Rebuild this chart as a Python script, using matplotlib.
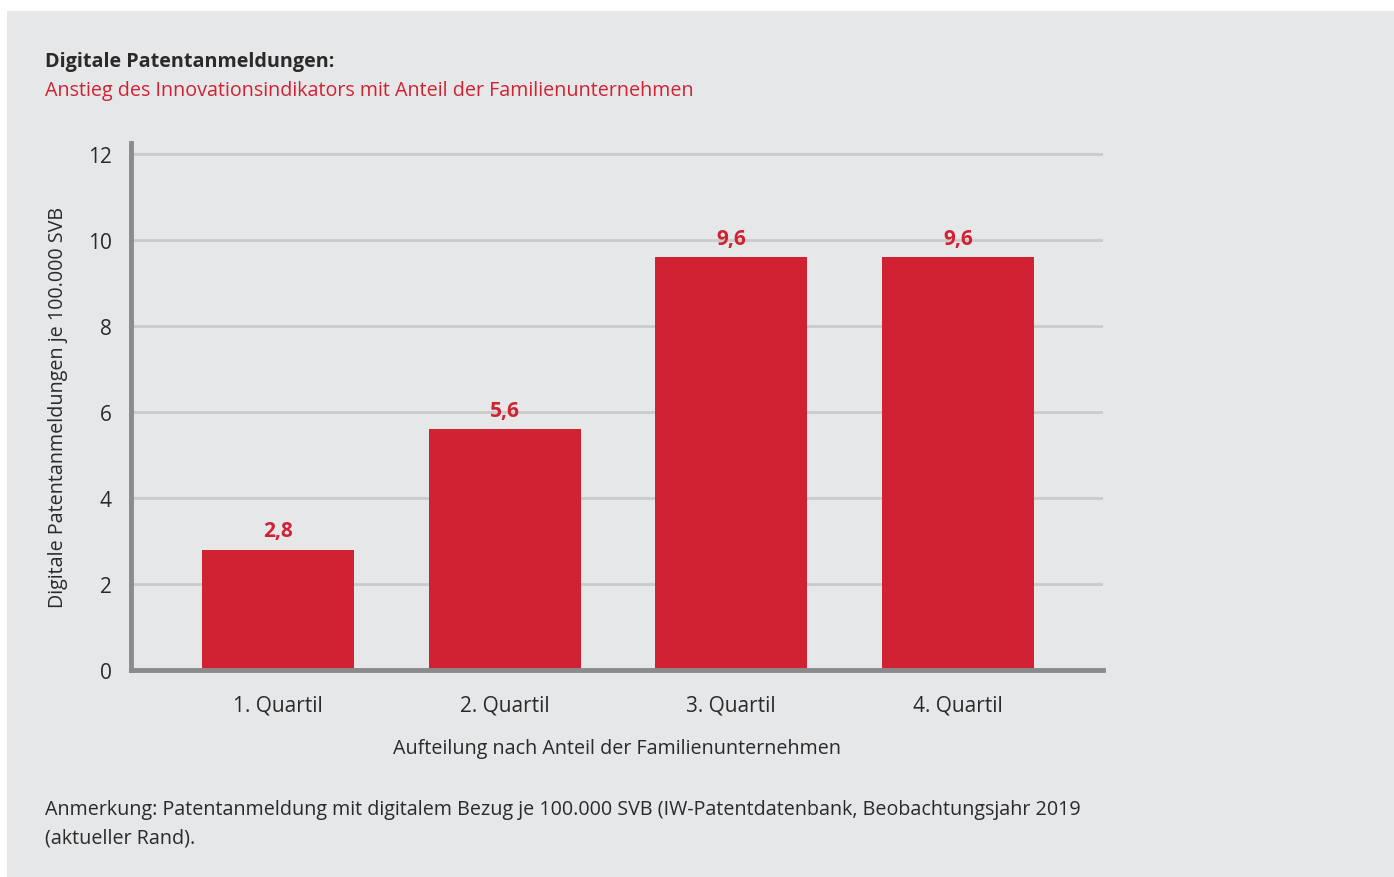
import matplotlib
matplotlib.use("Agg")
import matplotlib.pyplot as plt
import matplotlib.patches as patches

plt.rcParams['font.family'] = ['Open Sans', 'DejaVu Sans']

# data
categories = ["1. Quartil", "2. Quartil", "3. Quartil", "4. Quartil"]
values = [2.8, 5.6, 9.6, 9.6]
valueLabels = ["2,8", "5,6", "9,6", "9,6"]
yTicks = [0, 2, 4, 6, 8, 10, 12]

bgColor = "#e6e7e9"
barColor = "#d12234"
axisColor = "#8a8b8d"
gridColor = "#c9cacc"
textColor = "#2a2a2a"

fs = 14.2

fig = plt.figure(figsize=(13.94, 8.78), dpi=100)
fig.patch.set_facecolor("white")
# grey panel behind everything
fig.patches.append(patches.Rectangle((7/1394, 0), 1, 1 - 12/878, transform=fig.transFigure,
                                     facecolor=bgColor, edgecolor="none", zorder=-10))

ax = fig.add_axes([131/1394, 1 - 671/878, (1103 - 131)/1394, (671 - 144)/878])
ax.set_facecolor("none")

x = range(len(categories))
ax.bar(x, values, width=0.67, color=barColor, zorder=3)
for i, v in enumerate(values):
    ax.annotate(valueLabels[i], (i, v), xytext=(0, 6), textcoords="offset points",
                ha="center", va="bottom", color=barColor, fontsize=15, fontweight="bold")

ax.set_xlim(-0.648, 3.64)
ax.set_ylim(0, 12.25)
ax.set_yticks(yTicks)
ax.set_yticklabels([str(t) for t in yTicks])
ax.set_xticks(list(x))
ax.set_xticklabels(categories)
ax.tick_params(axis="both", length=0, labelsize=15, labelcolor=textColor)
ax.tick_params(axis="y", pad=14)
ax.tick_params(axis="x", pad=18)

for t in yTicks[1:]:
    ax.axhline(t, color=gridColor, linewidth=2, zorder=1)

for s in ["top", "right"]:
    ax.spines[s].set_visible(False)
ax.spines["left"].set_color(axisColor)
ax.spines["left"].set_linewidth(3.5)
ax.spines["bottom"].set_color(axisColor)
ax.spines["bottom"].set_linewidth(3.5)
ax.spines["left"].set_zorder(4)
ax.spines["bottom"].set_zorder(4)

ax.set_ylabel("Digitale Patentanmeldungen je 100.000 SVB", fontsize=fs, color=textColor, labelpad=14)
ax.set_xlabel("Aufteilung nach Anteil der Familienunternehmen", fontsize=fs, color=textColor, labelpad=16)

fig.text(45/1394, 1 - 62/878, "Digitale Patentanmeldungen:", fontsize=fs, fontweight="bold",
         color=textColor, va="center", ha="left")
fig.text(45/1394, 1 - 91/878, "Anstieg des Innovationsindikators mit Anteil der Familienunternehmen",
         fontsize=fs, color=barColor, va="center", ha="left")
fig.text(45/1394, 1 - 810/878,
         "Anmerkung: Patentanmeldung mit digitalem Bezug je 100.000 SVB (IW-Patentdatenbank, Beobachtungsjahr 2019",
         fontsize=fs, color=textColor, va="center", ha="left")
fig.text(45/1394, 1 - 839/878, "(aktueller Rand).", fontsize=fs, color=textColor, va="center", ha="left")

fig.savefig("out.png", dpi=100, facecolor=fig.get_facecolor())
